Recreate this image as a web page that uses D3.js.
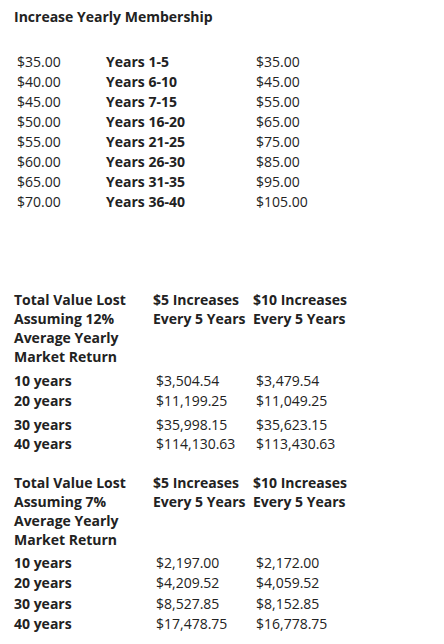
<!DOCTYPE html>
<html><head><meta charset="utf-8">
<script src="https://cdn.jsdelivr.net/npm/d3@7/dist/d3.min.js"></script>
<style>body{margin:0;background:#fff}text{font-family:"Open Sans",sans-serif;font-size:14px;fill:#222}</style>
</head><body><svg id="c" width="444" height="644"></svg>
<script>
const title = "Increase Yearly Membership";
const baseFees = ["$35.00","$40.00","$45.00","$50.00","$55.00","$60.00","$65.00","$70.00"];
const periods = ["Years 1-5","Years 6-10","Years 7-15","Years 16-20","Years 21-25","Years 26-30","Years 31-35","Years 36-40"];
const tenFees = ["$35.00","$45.00","$55.00","$65.00","$75.00","$85.00","$95.00","$105.00"];
const headA12 = ["Total Value Lost","Assuming 12%","Average Yearly","Market Return"];
const headA7 = ["Total Value Lost","Assuming 7%","Average Yearly","Market Return"];
const headB = ["$5 Increases","Every 5 Years"];
const headC = ["$10 Increases","Every 5 Years"];
const horizons = ["10 years","20 years","30 years","40 years"];
const lost12five = ["$3,504.54","$11,199.25","$35,998.15","$114,130.63"];
const lost12ten = ["$3,479.54","$11,049.25","$35,623.15","$113,430.63"];
const lost7five = ["$2,197.00","$4,209.52","$8,527.85","$17,478.75"];
const lost7ten = ["$2,172.00","$4,059.52","$8,152.85","$16,778.75"];

const svg = d3.select("#c");
function col(arr, x, ys, bold){
  svg.append("g").selectAll("text").data(arr).join("text")
    .attr("x", x).attr("y", (d,i)=>ys[i]).text(d=>d)
    .style("font-weight", bold?700:400);
}
svg.append("text").attr("x",14).attr("y",22).text(title).style("font-weight",700);
const y1 = d3.scalePoint().domain(d3.range(8)).range([67,207]);
const ys1 = d3.range(8).map(y1);
col(baseFees,17,ys1,false); col(periods,106,ys1,true); col(tenFees,256,ys1,false);

function section(head, five, ten, hy, rowYs){
  const hs = d3.scalePoint().domain(d3.range(4)).range([hy, hy+57]);
  col(head,14,d3.range(4).map(hs),true);
  col(headB,153,[hs(0),hs(1)],true);
  col(headC,253,[hs(0),hs(1)],true);
  col(horizons,14,rowYs,true);
  col(five,156,rowYs,false);
  col(ten,256,rowYs,false);
}
section(headA12, lost12five, lost12ten, 305, [386,406,430,449]);
section(headA7, lost7five, lost7ten, 488, [568,588,609,629]);
</script></body></html>
